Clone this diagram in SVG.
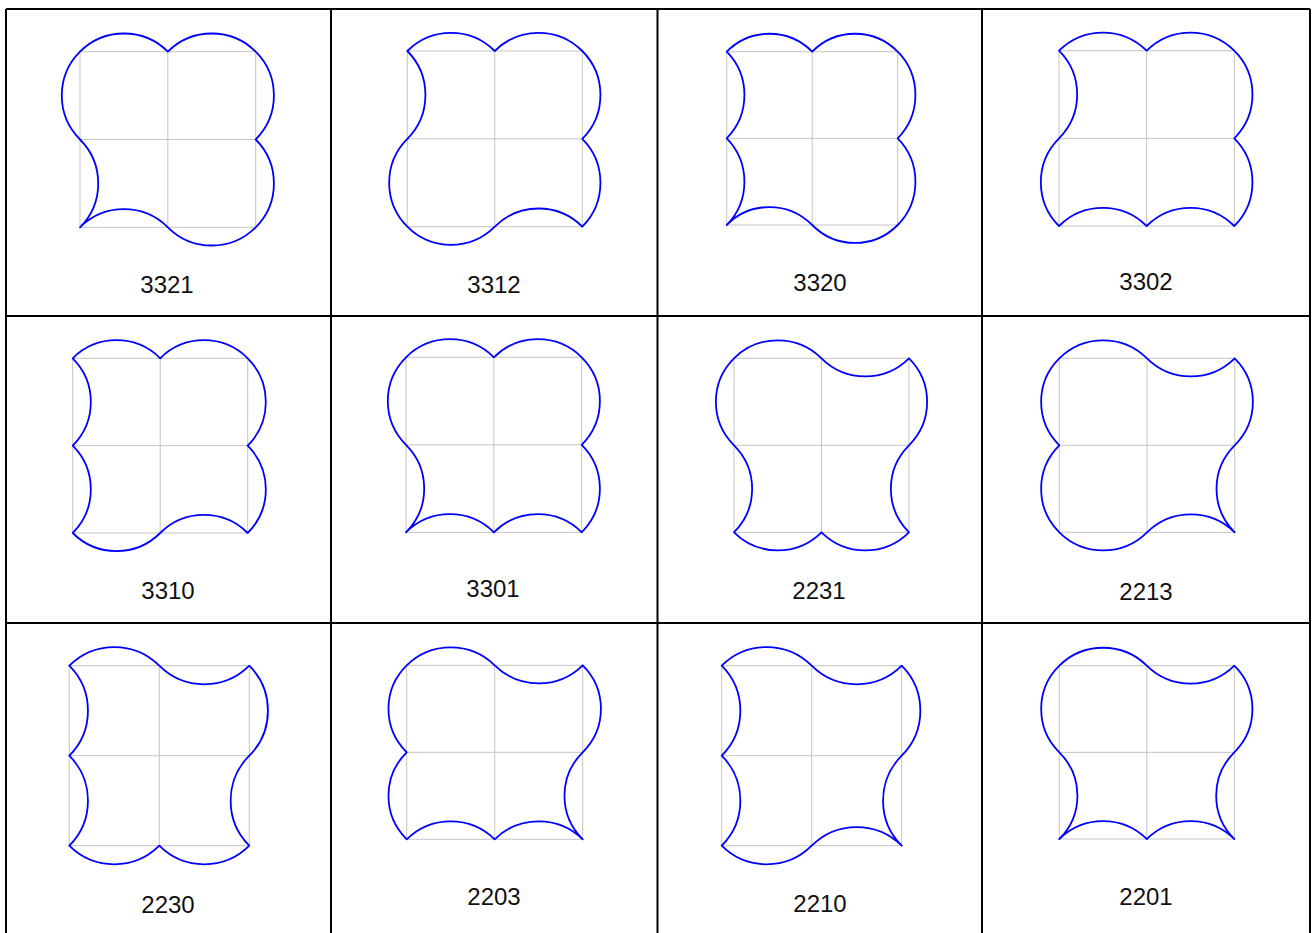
<svg xmlns="http://www.w3.org/2000/svg" width="1313" height="933" viewBox="0 0 1313 933">
<style>
.g{fill:none;stroke:#c4c4c4;stroke-width:1}
.c{fill:none;stroke:#0000ff;stroke-width:1.8;stroke-linejoin:round}
.t{font-family:"Liberation Sans",Arial,sans-serif;font-size:24px;fill:#111;text-anchor:middle}
.b{stroke:#000;stroke-width:2;fill:none}
</style>
<rect width="1313" height="933" fill="#fff"/>
<g id="table">
<path class="b" d="M6,9H1310M6,316H1310M6,623H1310M6,9V933M331,9V933M657.5,9V933M982,9V933M1310,9V933"/>
</g>
<g id="cell-3321" transform="translate(80,51.7)">
<rect class="g" x="0" y="0" width="175.7" height="175.6"/><path class="g" d="M87.85,0V175.6M0,87.8H175.7"/>
<path class="c" d="M0,0A62.12 62.08 0 0 1 87.85,0A62.12 62.08 0 0 1 175.7,0A62.12 62.08 0 0 1 175.7,87.8A62.12 62.08 0 0 1 175.7,175.6A62.12 62.08 0 0 1 87.85,175.6A62.12 62.08 0 0 0 0,175.6A62.12 62.08 0 0 0 0,87.8A62.12 62.08 0 0 1 0,0Z"/>
</g>
<g id="cell-3312" transform="translate(407.3,51)">
<rect class="g" x="0" y="0" width="175" height="175.7"/><path class="g" d="M87.5,0V175.7M0,87.85H175"/>
<path class="c" d="M0,0A61.87 62.12 0 0 1 87.5,0A61.87 62.12 0 0 1 175,0A61.87 62.12 0 0 1 175,87.85A61.87 62.12 0 0 1 175,175.7A61.87 62.12 0 0 0 87.5,175.7A61.87 62.12 0 0 1 0,175.7A61.87 62.12 0 0 1 0,87.85A61.87 62.12 0 0 0 0,0Z"/>
</g>
<g id="cell-3320" transform="translate(726.7,51.7)">
<rect class="g" x="0" y="0" width="171" height="173.3"/><path class="g" d="M85.5,0V173.3M0,86.65H171"/>
<path class="c" d="M0,0A60.46 61.27 0 0 1 85.5,0A60.46 61.27 0 0 1 171,0A60.46 61.27 0 0 1 171,86.65A60.46 61.27 0 0 1 171,173.3A60.46 61.27 0 0 1 85.5,173.3A60.46 61.27 0 0 0 0,173.3A60.46 61.27 0 0 0 0,86.65A60.46 61.27 0 0 0 0,0Z"/>
</g>
<g id="cell-3302" transform="translate(1059,50.7)">
<rect class="g" x="0" y="0" width="175.3" height="175.3"/><path class="g" d="M87.65,0V175.3M0,87.65H175.3"/>
<path class="c" d="M0,0A61.98 61.98 0 0 1 87.65,0A61.98 61.98 0 0 1 175.3,0A61.98 61.98 0 0 1 175.3,87.65A61.98 61.98 0 0 1 175.3,175.3A61.98 61.98 0 0 0 87.65,175.3A61.98 61.98 0 0 0 0,175.3A61.98 61.98 0 0 1 0,87.65A61.98 61.98 0 0 0 0,0Z"/>
</g>
<g id="cell-3310" transform="translate(72.7,358.3)">
<rect class="g" x="0" y="0" width="175" height="174.7"/><path class="g" d="M87.5,0V174.7M0,87.35H175"/>
<path class="c" d="M0,0A61.87 61.77 0 0 1 87.5,0A61.87 61.77 0 0 1 175,0A61.87 61.77 0 0 1 175,87.35A61.87 61.77 0 0 1 175,174.7A61.87 61.77 0 0 0 87.5,174.7A61.87 61.77 0 0 1 0,174.7A61.87 61.77 0 0 0 0,87.35A61.87 61.77 0 0 0 0,0Z"/>
</g>
<g id="cell-3301" transform="translate(406,357.3)">
<rect class="g" x="0" y="0" width="175.7" height="175"/><path class="g" d="M87.85,0V175M0,87.5H175.7"/>
<path class="c" d="M0,0A62.12 61.87 0 0 1 87.85,0A62.12 61.87 0 0 1 175.7,0A62.12 61.87 0 0 1 175.7,87.5A62.12 61.87 0 0 1 175.7,175A62.12 61.87 0 0 0 87.85,175A62.12 61.87 0 0 0 0,175A62.12 61.87 0 0 0 0,87.5A62.12 61.87 0 0 1 0,0Z"/>
</g>
<g id="cell-2231" transform="translate(734,358.3)">
<rect class="g" x="0" y="0" width="175" height="174"/><path class="g" d="M87.5,0V174M0,87H175"/>
<path class="c" d="M0,0A61.87 61.52 0 0 1 87.5,0A61.87 61.52 0 0 0 175,0A61.87 61.52 0 0 1 175,87A61.87 61.52 0 0 0 175,174A61.87 61.52 0 0 1 87.5,174A61.87 61.52 0 0 1 0,174A61.87 61.52 0 0 0 0,87A61.87 61.52 0 0 1 0,0Z"/>
</g>
<g id="cell-2213" transform="translate(1059.3,358.3)">
<rect class="g" x="0" y="0" width="175.4" height="174"/><path class="g" d="M87.7,0V174M0,87H175.4"/>
<path class="c" d="M0,0A62.01 61.52 0 0 1 87.7,0A62.01 61.52 0 0 0 175.4,0A62.01 61.52 0 0 1 175.4,87A62.01 61.52 0 0 0 175.4,174A62.01 61.52 0 0 0 87.7,174A62.01 61.52 0 0 1 0,174A62.01 61.52 0 0 1 0,87A62.01 61.52 0 0 1 0,0Z"/>
</g>
<g id="cell-2230" transform="translate(69.3,665.7)">
<rect class="g" x="0" y="0" width="180" height="180"/><path class="g" d="M90,0V180M0,90H180"/>
<path class="c" d="M0,0A63.64 63.64 0 0 1 90,0A63.64 63.64 0 0 0 180,0A63.64 63.64 0 0 1 180,90A63.64 63.64 0 0 0 180,180A63.64 63.64 0 0 1 90,180A63.64 63.64 0 0 1 0,180A63.64 63.64 0 0 0 0,90A63.64 63.64 0 0 0 0,0Z"/>
</g>
<g id="cell-2203" transform="translate(406.7,665.3)">
<rect class="g" x="0" y="0" width="176" height="174"/><path class="g" d="M88,0V174M0,87H176"/>
<path class="c" d="M0,0A62.23 61.52 0 0 1 88,0A62.23 61.52 0 0 0 176,0A62.23 61.52 0 0 1 176,87A62.23 61.52 0 0 0 176,174A62.23 61.52 0 0 0 88,174A62.23 61.52 0 0 0 0,174A62.23 61.52 0 0 1 0,87A62.23 61.52 0 0 1 0,0Z"/>
</g>
<g id="cell-2210" transform="translate(721.7,665.7)">
<rect class="g" x="0" y="0" width="180" height="180"/><path class="g" d="M90,0V180M0,90H180"/>
<path class="c" d="M0,0A63.64 63.64 0 0 1 90,0A63.64 63.64 0 0 0 180,0A63.64 63.64 0 0 1 180,90A63.64 63.64 0 0 0 180,180A63.64 63.64 0 0 0 90,180A63.64 63.64 0 0 1 0,180A63.64 63.64 0 0 0 0,90A63.64 63.64 0 0 0 0,0Z"/>
</g>
<g id="cell-2201" transform="translate(1059.3,665.7)">
<rect class="g" x="0" y="0" width="175" height="173.3"/><path class="g" d="M87.5,0V173.3M0,86.65H175"/>
<path class="c" d="M0,0A61.87 61.27 0 0 1 87.5,0A61.87 61.27 0 0 0 175,0A61.87 61.27 0 0 1 175,86.65A61.87 61.27 0 0 0 175,173.3A61.87 61.27 0 0 0 87.5,173.3A61.87 61.27 0 0 0 0,173.3A61.87 61.27 0 0 0 0,86.65A61.87 61.27 0 0 1 0,0Z"/>
</g>
<g id="labels">
<text class="t" x="167" y="293">3321</text>
<text class="t" x="494" y="293">3312</text>
<text class="t" x="820" y="291">3320</text>
<text class="t" x="1146" y="290">3302</text>
<text class="t" x="168" y="599">3310</text>
<text class="t" x="493" y="597">3301</text>
<text class="t" x="819" y="599">2231</text>
<text class="t" x="1146" y="600">2213</text>
<text class="t" x="168" y="913">2230</text>
<text class="t" x="494" y="905">2203</text>
<text class="t" x="820" y="912">2210</text>
<text class="t" x="1146" y="905">2201</text>
</g>
</svg>
